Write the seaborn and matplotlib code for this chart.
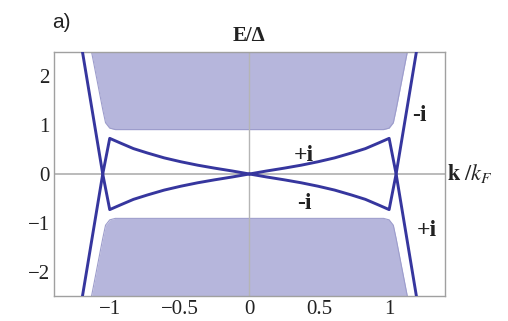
import matplotlib
matplotlib.use("Agg")
import matplotlib.pyplot as plt
import numpy as np
import pandas as pd
import seaborn as sns

# Edge-state branch for k >= 0: from the origin to the cusp, then the steep leg
branch_k = [0.0, 0.12, 0.25, 0.37, 0.49, 0.61, 0.73, 0.83, 0.92, 1.0, 1.05, 1.195]
branch_E = [0.0, 0.06, 0.12, 0.18, 0.25, 0.33, 0.43, 0.52, 0.63, 0.73, 0.0, -2.5]

# Boundary of the bulk continuum (upper band, right edge)
band_E = [0.91, 0.94, 1.05, 1.32, 2.5]
band_k = [0.96, 1.0, 1.03, 1.05, 1.13]

x_ticks = [-1, -0.5, 0, 0.5, 1]
x_tick_labels = ["\u22121", "\u22120.5", "0", "0.5", "1"]
y_ticks = [-2, -1, 0, 1, 2]
y_tick_labels = ["\u22122", "\u22121", "0", "1", "2"]

# Curve labels (text, k, E)
curve_labels = [("+i", 0.39, 0.37), ("-i", 0.39, -0.60),
                ("-i", 1.22, 1.20), ("+i", 1.27, -1.15)]

sns.set_style("white")
plt.rcParams["font.family"] = ["Liberation Serif", "DejaVu Serif"]
plt.rcParams["mathtext.fontset"] = "stix"

LINE = "#36369e"
BAND = "#b6b6dc"
BAND_EDGE = "#9d9dcc"
GRID = "#b5b5b5"

fig = plt.figure(figsize=(5.08, 3.21), dpi=100)
ax = fig.add_axes([0.106, 0.078, 0.770, 0.760])

# Bulk bands
bk = np.array(band_k)
bE = np.array(band_E)
for sgn in (1, -1):
    ax.fill_betweenx(sgn * bE, -bk, bk, color=BAND, lw=0, zorder=1)
    edge_k = np.concatenate([-bk[::-1], bk])
    edge_E = sgn * np.concatenate([bE[::-1], bE])
    ax.plot(edge_k, edge_E, color=BAND_EDGE, lw=0.8, zorder=1.5)

# Zero axes
ax.axhline(0, color=GRID, lw=1.3, zorder=2)
ax.axvline(0, color=GRID, lw=1.0, zorder=2)

# Four edge-state curves (mirror images of one branch)
frames = []
k = np.array(branch_k)
E = np.array(branch_E)
for name, sk, sE in [("a", 1, 1), ("b", 1, -1), ("c", -1, 1), ("d", -1, -1)]:
    frames.append(pd.DataFrame({"k": sk * k, "E": sE * E, "curve": name}))
df = pd.concat(frames, ignore_index=True)
sns.lineplot(data=df, x="k", y="E", units="curve", estimator=None, sort=False,
             color=LINE, lw=2.1, ax=ax, zorder=3)

for txt, kx, ey in curve_labels:
    ax.text(kx, ey, txt, ha="center", va="center", fontsize=17,
            fontweight="bold", color="#222222", zorder=4)

ax.set_xlim(-1.4, 1.4)
ax.set_ylim(-2.5, 2.5)
ax.set_xticks(x_ticks)
ax.set_xticklabels(x_tick_labels)
ax.set_yticks(y_ticks)
ax.set_yticklabels(y_tick_labels)
ax.set_xlabel("")
ax.set_ylabel("")
ax.tick_params(direction="in", length=3, width=0.8, color="#999999",
               labelsize=15, labelcolor="#222222", pad=3)
for s in ax.spines.values():
    s.set_color("#a0a0a0")
    s.set_linewidth(1.0)

fig.text(52 / 508, 1 - 22 / 321, "a)", fontsize=15, family="Liberation Sans",
         ha="left", va="center", color="#222222")
fig.text(249 / 508, 1 - 36 / 321, "E/\u0394", fontsize=15, fontweight="bold",
         ha="center", va="center", color="#222222")
fig.text(447 / 508, 1 - 174 / 321, r"$\mathbf{k}\ /k_F$", fontsize=16,
         ha="left", va="center", color="#222222")

fig.savefig("out.png", dpi=100)
